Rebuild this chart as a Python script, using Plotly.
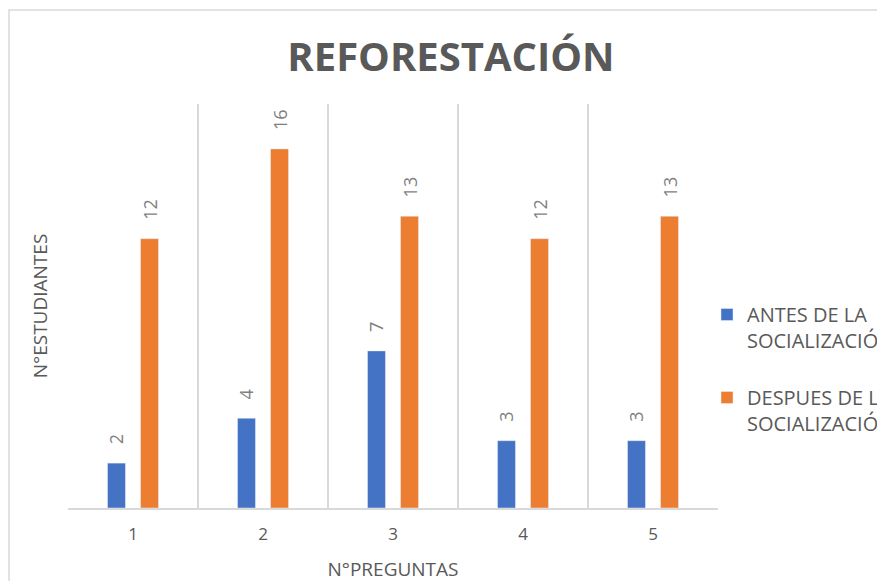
import plotly.graph_objects as go

categorias = ["1", "2", "3", "4", "5"]
antes = [2, 4, 7, 3, 3]
despues = [12, 16, 13, 12, 13]
nombre_antes = "ANTES DE LA<br>SOCIALIZACIÓN"
nombre_despues = "DESPUES DE LA<br>SOCIALIZACIÓN"

AZUL = "#4472C4"
NARANJA = "#ED7D31"
GRIS = "#595959"
GRIS_ETIQ = "#7F7F7F"
LINEA = "#D9D9D9"
FUENTE = "Open Sans"
PAD = "\u00a0\u00a0\u00a0\u200a"

fig = go.Figure()
fig.add_trace(go.Bar(
    x=categorias, y=antes, name=nombre_antes, marker_color=AZUL, legendgroup="a",
    width=0.138, offset=-0.196,
    text=[PAD + str(v) for v in antes], textposition="outside", textangle=-90,
    constraintext="none",
    textfont=dict(family=FUENTE, size=18, color=GRIS_ETIQ), cliponaxis=False,
))
fig.add_trace(go.Bar(
    x=categorias, y=despues, name=nombre_despues, marker_color=NARANJA, legendgroup="b",
    width=0.138, offset=0.058,
    text=[PAD + str(v) for v in despues], textposition="outside", textangle=-90,
    constraintext="none",
    textfont=dict(family=FUENTE, size=18, color=GRIS_ETIQ), cliponaxis=False,
))

L, T, W, H = 60, 96, 650, 404
fig.update_layout(
    width=885, height=581,
    margin=dict(l=L, r=885 - L - W, t=T, b=581 - T - H, autoexpand=False),
    paper_bgcolor="white", plot_bgcolor="white",
    barmode="group",
    font=dict(family=FUENTE, color=GRIS),
    title=dict(text="<b>REFORESTACIÓN</b>", x=443/885, xref="container", xanchor="center",
               y=1-49/581, yref="container", yanchor="middle",
               font=dict(family=FUENTE, size=40, color=GRIS)),
    legend=dict(x=(699-L)/W, xanchor="left", y=(508-295)/404, yanchor="top",
                font=dict(family=FUENTE, size=20, color=GRIS), valign="top",
                itemwidth=30, tracegroupgap=28, bgcolor="rgba(0,0,0,0)"),
    showlegend=True,
)
fig.update_xaxes(
    type="category", tickson="boundaries", showgrid=True, gridcolor=LINEA, gridwidth=1.5,
    showline=True, linecolor=LINEA, linewidth=2, ticks="", range=[-0.5, 4.5],
    tickfont=dict(family=FUENTE, size=17, color=GRIS), automargin=False,
    ticklabelstandoff=10,
    title=dict(text="N°PREGUNTAS", font=dict(family=FUENTE, size=19, color=GRIS), standoff=18),
)
fig.update_yaxes(
    range=[0, 18], showgrid=False, showticklabels=False, zeroline=False, showline=False,
    automargin=False,
    title=dict(text="N°ESTUDIANTES", font=dict(family=FUENTE, size=19, color=GRIS), standoff=14),
)
fig.add_shape(type="rect", xref="paper", yref="paper",
              x0=(1-L)/W, x1=2.0, y0=-1.0, y1=(T + H - 2)/H,
              line=dict(color=LINEA, width=1.5), fillcolor="rgba(0,0,0,0)", layer="below")

fig.write_html("out.html")
